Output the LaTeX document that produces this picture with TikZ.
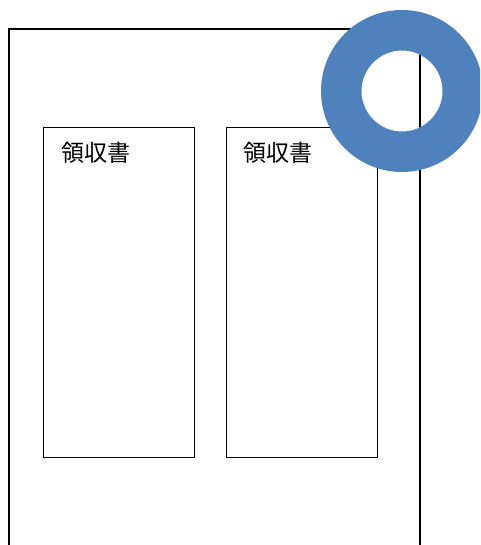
\documentclass[tikz,border=0pt]{standalone}
\usepackage{fontspec}
\newfontfamily\cjk{Noto Sans CJK JP}
\definecolor{ringblue}{HTML}{4F81BD}
\tikzset{
  frame/.style={draw=black, line width=1.3pt},
  slip/.style={draw=black, line width=1.3pt, fill=white},
  slabel/.style={anchor=west, inner sep=0pt, font=\cjk\fontsize{23}{25}\selectfont},
}
\begin{document}
\begin{tikzpicture}[x=1pt,y=-1pt]
\useasboundingbox (0,0) rectangle (480,545);
\clip (0,0) rectangle (480,545);
% outer frame (bottom runs past the picture)
\draw[frame] (9,560) -- (9,29) -- (420,29) -- (420,560);
% slips
\node[slip, minimum width=151pt, minimum height=330pt, anchor=north west, inner sep=0pt] (s1) at (43,127) {};
\node[slip, minimum width=151pt, minimum height=330pt, anchor=north west, inner sep=0pt] (s2) at (226,127) {};
\node[slabel] (t1) at (61,153) {領収書};
\node[slabel] (t2) at (243,153) {領収書};
% ring
\fill[ringblue, even odd rule] (402,91) circle[radius=81] (402,91) circle[radius=40.5];
\end{tikzpicture}
\end{document}
